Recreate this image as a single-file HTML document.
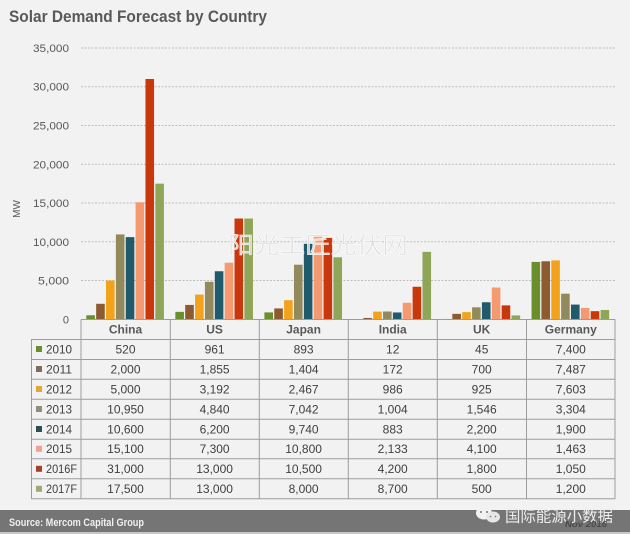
<!DOCTYPE html>
<html>
<head>
<meta charset="utf-8">
<style>
html,body{margin:0;padding:0;background:#f2f2f2;}
svg{display:block;}
text{font-family:"Liberation Sans","Noto Sans CJK SC",sans-serif;}
</style>
</head>
<body>
<svg width="630" height="534" viewBox="0 0 630 534" xmlns="http://www.w3.org/2000/svg">
<rect x="0" y="0" width="630" height="534" fill="#f2f2f2"/>

<!-- Title -->
<text x="9" y="22" font-size="16.5" font-weight="bold" fill="#595959" textLength="258" lengthAdjust="spacingAndGlyphs">Solar Demand Forecast by Country</text>

<!-- Gridlines -->
<g stroke="#bdbdbd" stroke-width="1" stroke-dasharray="2,1.5">
<line x1="81" y1="280.5" x2="615" y2="280.5"/>
<line x1="81" y1="241.8" x2="615" y2="241.8"/>
<line x1="81" y1="203" x2="615" y2="203"/>
<line x1="81" y1="164.3" x2="615" y2="164.3"/>
<line x1="81" y1="125.5" x2="615" y2="125.5"/>
<line x1="81" y1="86.7" x2="615" y2="86.7"/>
<line x1="81" y1="48" x2="615" y2="48"/>
</g>

<!-- Y axis labels -->
<g font-size="11" fill="#595959" text-anchor="end">
<text x="69" y="323.3">0</text>
<text x="69" y="284.5" textLength="31" lengthAdjust="spacingAndGlyphs">5,000</text>
<text x="69" y="245.8" textLength="36" lengthAdjust="spacingAndGlyphs">10,000</text>
<text x="69" y="207" textLength="36" lengthAdjust="spacingAndGlyphs">15,000</text>
<text x="69" y="168.3" textLength="36" lengthAdjust="spacingAndGlyphs">20,000</text>
<text x="69" y="129.5" textLength="36" lengthAdjust="spacingAndGlyphs">25,000</text>
<text x="69" y="90.7" textLength="36" lengthAdjust="spacingAndGlyphs">30,000</text>
<text x="69" y="52" textLength="36" lengthAdjust="spacingAndGlyphs">35,000</text>
</g>
<text x="0" y="0" font-size="10" fill="#595959" text-anchor="middle" transform="translate(20,209) rotate(-90)">MW</text>

<!-- Bars: scaled group, heights in data units -->
<!-- China -->
<g transform="translate(81,319.3) scale(1,-0.0077514)">
<rect x="5.3" y="0" width="8.6" height="520" fill="#6a8e2a"/>
<rect x="15.16" y="0" width="8.6" height="2000" fill="#8c5b30"/>
<rect x="25.02" y="0" width="8.6" height="5000" fill="#f2a31b"/>
<rect x="34.88" y="0" width="8.6" height="10950" fill="#928a5c"/>
<rect x="44.74" y="0" width="8.6" height="10600" fill="#215a6b"/>
<rect x="54.6" y="0" width="8.6" height="15100" fill="#f59a70"/>
<rect x="64.46" y="0" width="8.6" height="31000" fill="#c9380c"/>
<rect x="74.32" y="0" width="8.6" height="17500" fill="#8fa558"/>
</g>
<!-- US -->
<g transform="translate(170.05,319.3) scale(1,-0.0077514)">
<rect x="5.3" y="0" width="8.6" height="961" fill="#6a8e2a"/>
<rect x="15.16" y="0" width="8.6" height="1855" fill="#8c5b30"/>
<rect x="25.02" y="0" width="8.6" height="3192" fill="#f2a31b"/>
<rect x="34.88" y="0" width="8.6" height="4840" fill="#928a5c"/>
<rect x="44.74" y="0" width="8.6" height="6200" fill="#215a6b"/>
<rect x="54.6" y="0" width="8.6" height="7300" fill="#f59a70"/>
<rect x="64.46" y="0" width="8.6" height="13000" fill="#c9380c"/>
<rect x="74.32" y="0" width="8.6" height="13000" fill="#8fa558"/>
</g>
<!-- Japan -->
<g transform="translate(259.1,319.3) scale(1,-0.0077514)">
<rect x="5.3" y="0" width="8.6" height="893" fill="#6a8e2a"/>
<rect x="15.16" y="0" width="8.6" height="1404" fill="#8c5b30"/>
<rect x="25.02" y="0" width="8.6" height="2467" fill="#f2a31b"/>
<rect x="34.88" y="0" width="8.6" height="7042" fill="#928a5c"/>
<rect x="44.74" y="0" width="8.6" height="9740" fill="#215a6b"/>
<rect x="54.6" y="0" width="8.6" height="10800" fill="#f59a70"/>
<rect x="64.46" y="0" width="8.6" height="10500" fill="#c9380c"/>
<rect x="74.32" y="0" width="8.6" height="8000" fill="#8fa558"/>
</g>
<!-- India -->
<g transform="translate(348.15,319.3) scale(1,-0.0077514)">
<rect x="5.3" y="0" width="8.6" height="12" fill="#6a8e2a"/>
<rect x="15.16" y="0" width="8.6" height="172" fill="#8c5b30"/>
<rect x="25.02" y="0" width="8.6" height="986" fill="#f2a31b"/>
<rect x="34.88" y="0" width="8.6" height="1004" fill="#928a5c"/>
<rect x="44.74" y="0" width="8.6" height="883" fill="#215a6b"/>
<rect x="54.6" y="0" width="8.6" height="2133" fill="#f59a70"/>
<rect x="64.46" y="0" width="8.6" height="4200" fill="#c9380c"/>
<rect x="74.32" y="0" width="8.6" height="8700" fill="#8fa558"/>
</g>
<!-- UK -->
<g transform="translate(437.2,319.3) scale(1,-0.0077514)">
<rect x="5.3" y="0" width="8.6" height="45" fill="#6a8e2a"/>
<rect x="15.16" y="0" width="8.6" height="700" fill="#8c5b30"/>
<rect x="25.02" y="0" width="8.6" height="925" fill="#f2a31b"/>
<rect x="34.88" y="0" width="8.6" height="1546" fill="#928a5c"/>
<rect x="44.74" y="0" width="8.6" height="2200" fill="#215a6b"/>
<rect x="54.6" y="0" width="8.6" height="4100" fill="#f59a70"/>
<rect x="64.46" y="0" width="8.6" height="1800" fill="#c9380c"/>
<rect x="74.32" y="0" width="8.6" height="500" fill="#8fa558"/>
</g>
<!-- Germany -->
<g transform="translate(526.25,319.3) scale(1,-0.0077514)">
<rect x="5.3" y="0" width="8.6" height="7400" fill="#6a8e2a"/>
<rect x="15.16" y="0" width="8.6" height="7487" fill="#8c5b30"/>
<rect x="25.02" y="0" width="8.6" height="7603" fill="#f2a31b"/>
<rect x="34.88" y="0" width="8.6" height="3304" fill="#928a5c"/>
<rect x="44.74" y="0" width="8.6" height="1900" fill="#215a6b"/>
<rect x="54.6" y="0" width="8.6" height="1463" fill="#f59a70"/>
<rect x="64.46" y="0" width="8.6" height="1050" fill="#c9380c"/>
<rect x="74.32" y="0" width="8.6" height="1200" fill="#8fa558"/>
</g>

<!-- Watermark (on top of bars) -->
<text x="228" y="253" font-family="'Noto Sans CJK SC','WenQuanYi Zen Hei',sans-serif" font-size="23" fill="#dadada" fill-opacity="0.9" stroke="#ffffff" stroke-width="0.7" stroke-opacity="0.8" textLength="180" lengthAdjust="spacingAndGlyphs">阳光工匠光伏网</text>

<!-- Table grid -->
<g stroke="#9d9d9d" stroke-width="1" fill="none">
<line x1="81" y1="319.5" x2="615.3" y2="319.5"/>
<line x1="31" y1="339.5" x2="615.3" y2="339.5"/>
<line x1="31" y1="359.5" x2="615.3" y2="359.5"/>
<line x1="31" y1="379.3" x2="615.3" y2="379.3"/>
<line x1="31" y1="399.3" x2="615.3" y2="399.3"/>
<line x1="31" y1="419.3" x2="615.3" y2="419.3"/>
<line x1="31" y1="439.3" x2="615.3" y2="439.3"/>
<line x1="31" y1="458.8" x2="615.3" y2="458.8"/>
<line x1="31" y1="478.8" x2="615.3" y2="478.8"/>
<line x1="31" y1="498.8" x2="615.3" y2="498.8"/>
<line x1="31.5" y1="339.5" x2="31.5" y2="498.8"/>
<line x1="81" y1="319.5" x2="81" y2="498.8"/>
<line x1="170.3" y1="319.5" x2="170.3" y2="498.8"/>
<line x1="259.3" y1="319.5" x2="259.3" y2="498.8"/>
<line x1="348.3" y1="319.5" x2="348.3" y2="498.8"/>
<line x1="437.3" y1="319.5" x2="437.3" y2="498.8"/>
<line x1="526.5" y1="319.5" x2="526.5" y2="498.8"/>
<line x1="615" y1="319.5" x2="615" y2="498.8"/>
</g>

<!-- Header -->
<g font-size="12" font-weight="bold" fill="#595959" text-anchor="middle">
<text x="125.5" y="333.5">China</text>
<text x="214.6" y="333.5">US</text>
<text x="303.6" y="333.5">Japan</text>
<text x="392.7" y="333.5">India</text>
<text x="481.7" y="333.5">UK</text>
<text x="570.8" y="333.5">Germany</text>
</g>

<!-- Legend column -->
<g>
<rect x="36" y="346" width="6" height="6" fill="#6a8e2a"/>
<rect x="36" y="366" width="6" height="6" fill="#7e6c5c"/>
<rect x="36" y="386" width="6" height="6" fill="#e8a537"/>
<rect x="36" y="406" width="6" height="6" fill="#938e78"/>
<rect x="36" y="426" width="6" height="6" fill="#2d4f54"/>
<rect x="36" y="445.8" width="6" height="6" fill="#efa28f"/>
<rect x="36" y="465.8" width="6" height="6" fill="#a8402a"/>
<rect x="36" y="485.8" width="6" height="6" fill="#a0a878"/>
</g>
<g font-size="12" fill="#404040">
<text x="46" y="353.5" textLength="26" lengthAdjust="spacingAndGlyphs">2010</text>
<text x="46" y="373.5" textLength="26" lengthAdjust="spacingAndGlyphs">2011</text>
<text x="46" y="393.3" textLength="26" lengthAdjust="spacingAndGlyphs">2012</text>
<text x="46" y="413.3" textLength="26" lengthAdjust="spacingAndGlyphs">2013</text>
<text x="46" y="433.3" textLength="26" lengthAdjust="spacingAndGlyphs">2014</text>
<text x="46" y="453" textLength="26" lengthAdjust="spacingAndGlyphs">2015</text>
<text x="46" y="472.8" textLength="31" lengthAdjust="spacingAndGlyphs">2016F</text>
<text x="46" y="492.8" textLength="31" lengthAdjust="spacingAndGlyphs">2017F</text>
</g>

<!-- Values -->
<g font-size="12" fill="#404040" text-anchor="middle">
<text x="125.5" y="353.5">520</text><text x="214.6" y="353.5">961</text><text x="303.6" y="353.5">893</text><text x="392.7" y="353.5">12</text><text x="481.7" y="353.5">45</text><text x="570.8" y="353.5">7,400</text>
<text x="125.5" y="373.5">2,000</text><text x="214.6" y="373.5">1,855</text><text x="303.6" y="373.5">1,404</text><text x="392.7" y="373.5">172</text><text x="481.7" y="373.5">700</text><text x="570.8" y="373.5">7,487</text>
<text x="125.5" y="393.3">5,000</text><text x="214.6" y="393.3">3,192</text><text x="303.6" y="393.3">2,467</text><text x="392.7" y="393.3">986</text><text x="481.7" y="393.3">925</text><text x="570.8" y="393.3">7,603</text>
<text x="125.5" y="413.3">10,950</text><text x="214.6" y="413.3">4,840</text><text x="303.6" y="413.3">7,042</text><text x="392.7" y="413.3">1,004</text><text x="481.7" y="413.3">1,546</text><text x="570.8" y="413.3">3,304</text>
<text x="125.5" y="433.3">10,600</text><text x="214.6" y="433.3">6,200</text><text x="303.6" y="433.3">9,740</text><text x="392.7" y="433.3">883</text><text x="481.7" y="433.3">2,200</text><text x="570.8" y="433.3">1,900</text>
<text x="125.5" y="453">15,100</text><text x="214.6" y="453">7,300</text><text x="303.6" y="453">10,800</text><text x="392.7" y="453">2,133</text><text x="481.7" y="453">4,100</text><text x="570.8" y="453">1,463</text>
<text x="125.5" y="472.8">31,000</text><text x="214.6" y="472.8">13,000</text><text x="303.6" y="472.8">10,500</text><text x="392.7" y="472.8">4,200</text><text x="481.7" y="472.8">1,800</text><text x="570.8" y="472.8">1,050</text>
<text x="125.5" y="492.8">17,500</text><text x="214.6" y="492.8">13,000</text><text x="303.6" y="492.8">8,000</text><text x="392.7" y="492.8">8,700</text><text x="481.7" y="492.8">500</text><text x="570.8" y="492.8">1,200</text>
</g>

<!-- Footer band -->
<rect x="0" y="510" width="630" height="22" fill="#757575"/>
<rect x="0" y="532" width="630" height="2" fill="#c8c8c8"/>
<text x="9" y="526" font-size="11" font-weight="bold" fill="#f0f0f0" textLength="135" lengthAdjust="spacingAndGlyphs">Source: Mercom Capital Group</text>

<!-- WeChat icon -->
<g fill="#f2f2f2">
<ellipse cx="484" cy="513" rx="8" ry="6.5"/>
<ellipse cx="493" cy="517" rx="7" ry="5.5" fill="#e6e6e6"/>
</g>
<g fill="#757575">
<circle cx="481" cy="512" r="1"/><circle cx="487" cy="512" r="1"/>
<circle cx="490.5" cy="516.5" r="0.8"/><circle cx="495.5" cy="516.5" r="0.8"/>
</g>
<text x="505" y="521.5" font-family="'Noto Sans CJK SC','WenQuanYi Zen Hei',sans-serif" font-size="15.5" fill="#eeeeee" textLength="108" lengthAdjust="spacingAndGlyphs">国际能源小数据</text>
<text x="565" y="527" font-size="8" font-weight="bold" font-style="italic" fill="#4a4a4a" textLength="42" lengthAdjust="spacingAndGlyphs">Nov 2016</text>
</svg>
</body>
</html>
